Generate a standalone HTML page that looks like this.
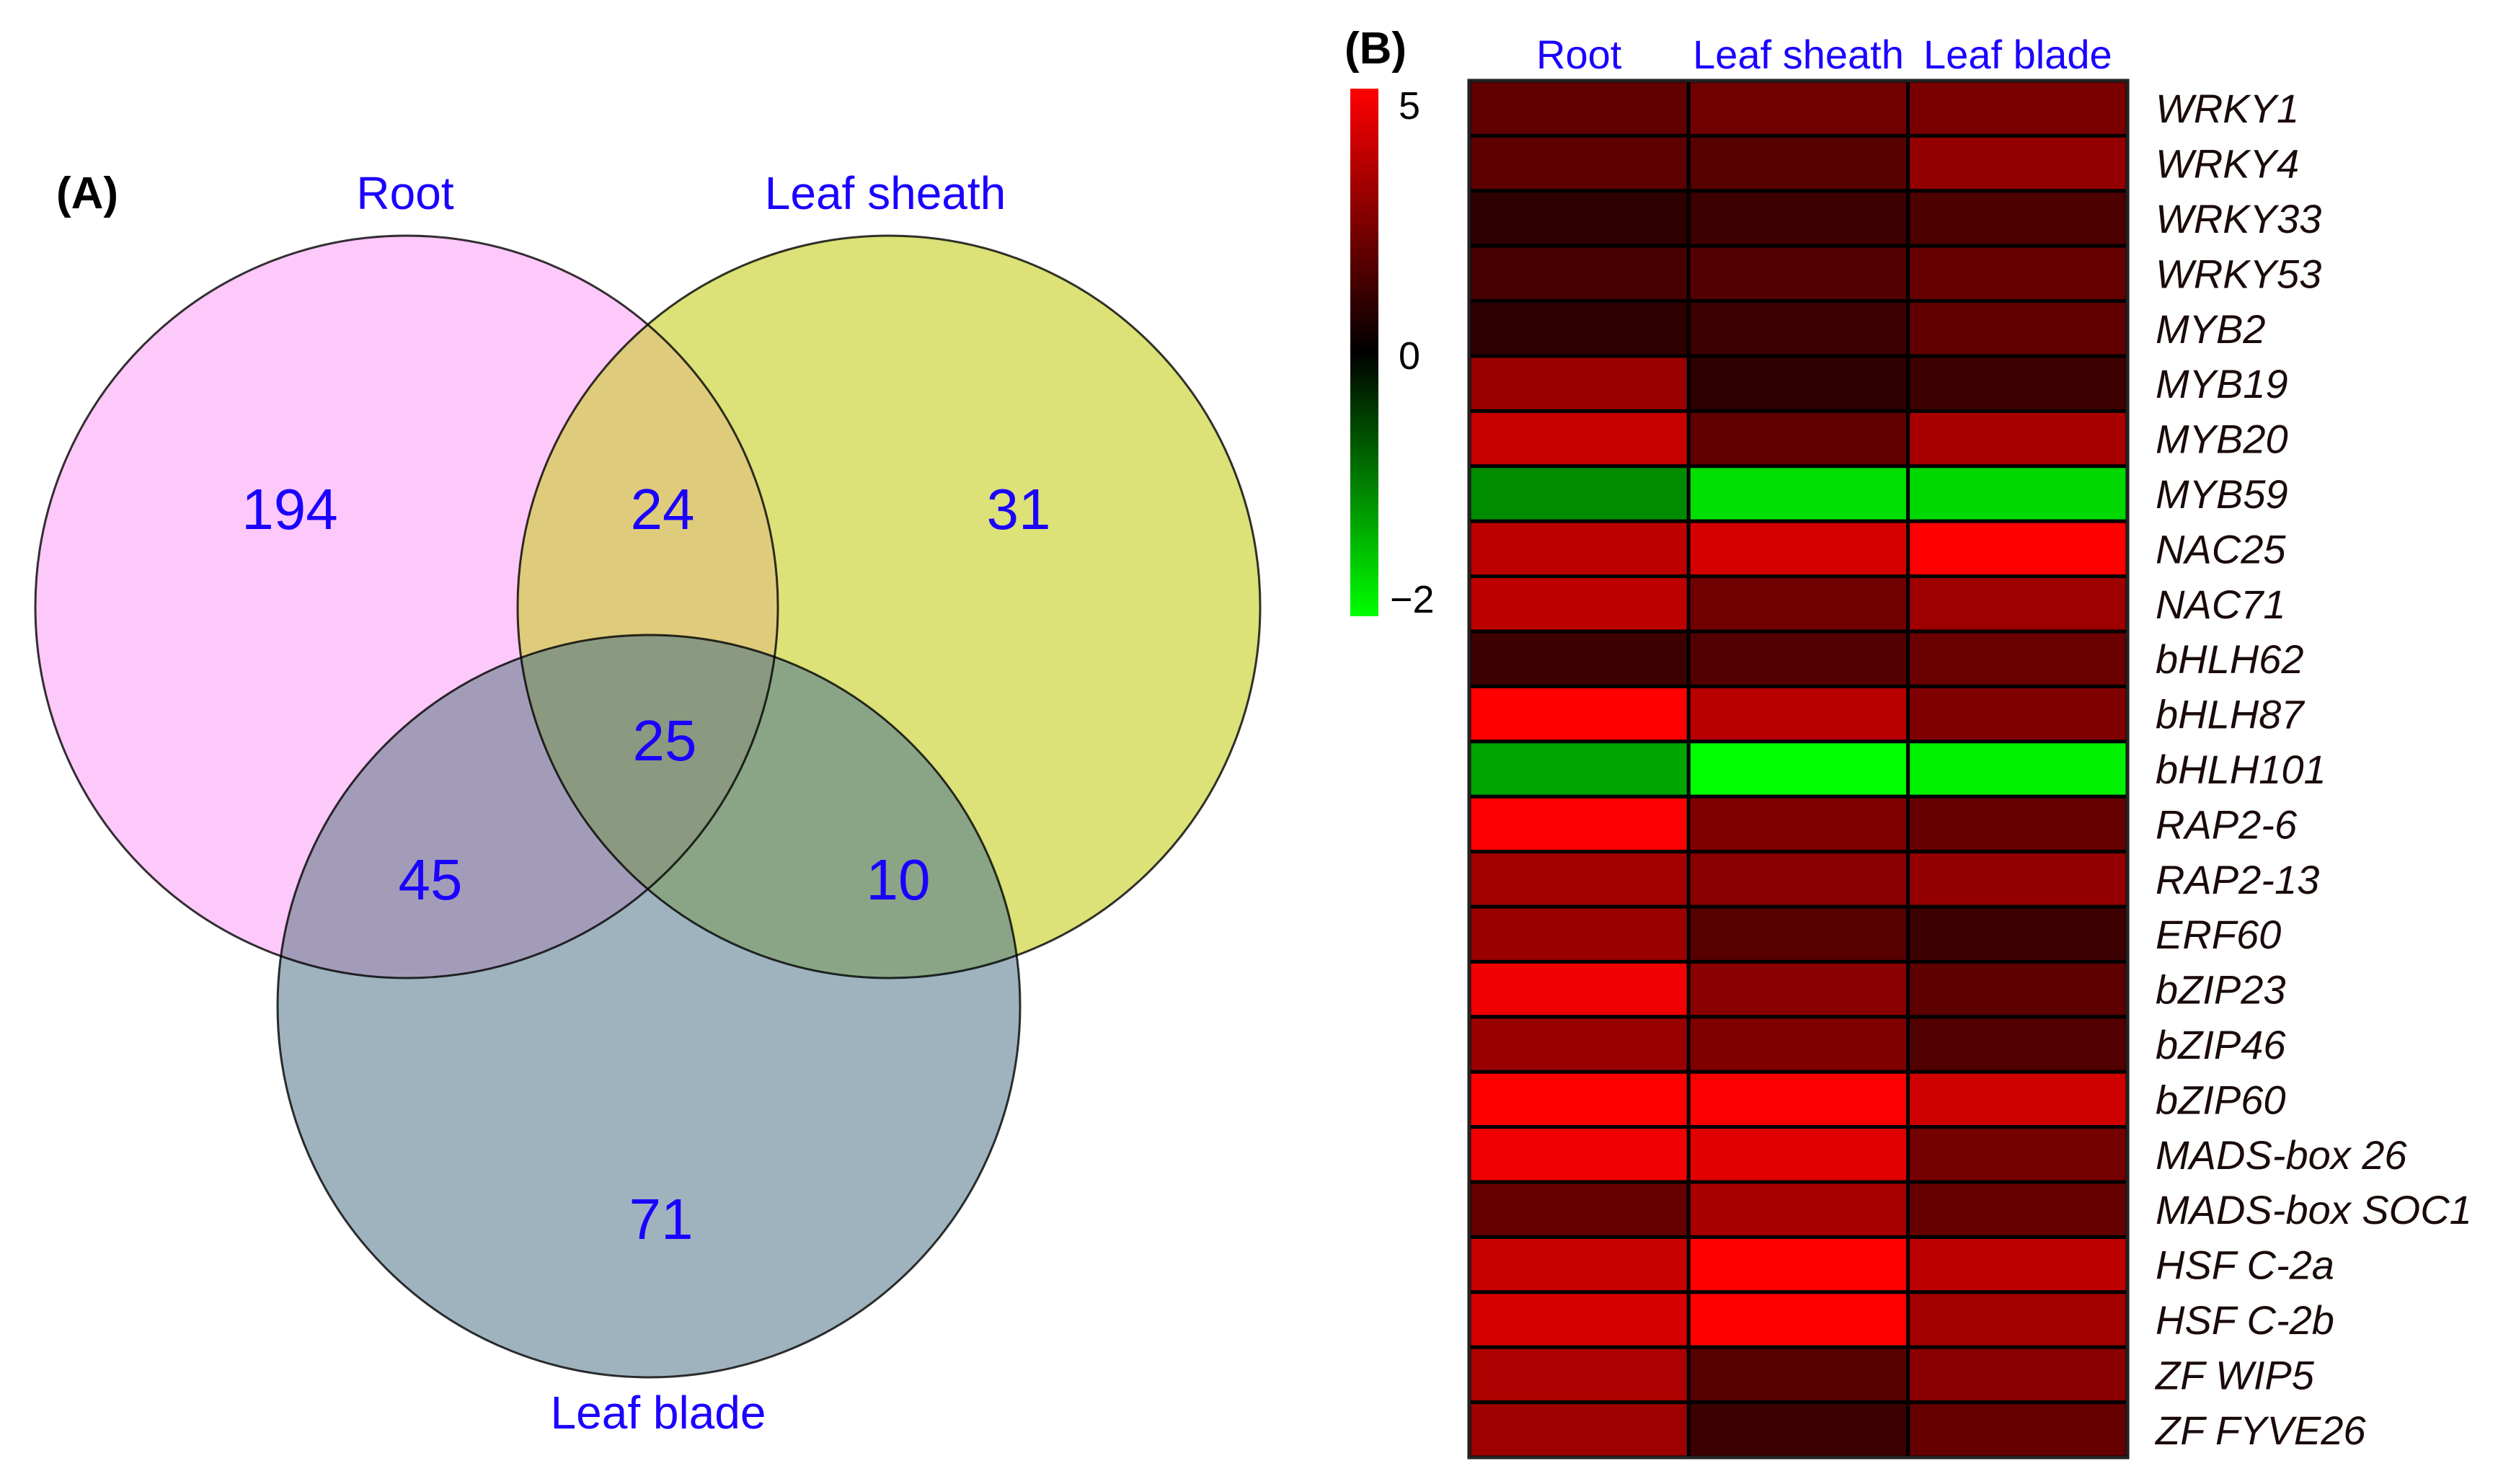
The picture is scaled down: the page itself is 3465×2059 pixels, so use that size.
<!DOCTYPE html>
<html><head><meta charset="utf-8"><style>
html,body{margin:0;padding:0;background:#fff;}
svg{display:block;}
text{font-family:"Liberation Sans",sans-serif;}
</style></head><body>
<svg id="fig" width="3465" height="2059" viewBox="0 0 3465 2059" xmlns="http://www.w3.org/2000/svg">
<defs>
<clipPath id="cR"><circle cx="564" cy="842" r="515"/></clipPath>
<clipPath id="cS"><circle cx="1233" cy="842" r="515"/></clipPath>
<clipPath id="cB"><circle cx="900" cy="1396" r="515"/></clipPath>
<linearGradient id="cbar" x1="0" y1="0" x2="0" y2="1">
<stop offset="0" stop-color="#ff0000"/><stop offset="0.5" stop-color="#000000"/><stop offset="1" stop-color="#00ff00"/>
</linearGradient>
</defs>
<g>
<text x="78" y="289" font-size="62" font-weight="bold">(A)</text>
<circle cx="564" cy="842" r="515" fill="#fdc8fa"/>
<circle cx="1233" cy="842" r="515" fill="#dce178"/>
<circle cx="900" cy="1396" r="515" fill="#9fb3be"/>
<g clip-path="url(#cR)"><circle cx="1233" cy="842" r="515" fill="#dfcb7c"/></g>
<g clip-path="url(#cR)"><circle cx="900" cy="1396" r="515" fill="#a39cb9"/></g>
<g clip-path="url(#cS)"><circle cx="900" cy="1396" r="515" fill="#8aa585"/></g>
<g clip-path="url(#cR)"><g clip-path="url(#cS)"><circle cx="900" cy="1396" r="515" fill="#8a9980"/></g></g>
<circle cx="564" cy="842" r="515" fill="none" stroke="#000" stroke-width="3" stroke-opacity="0.8"/>
<circle cx="1233" cy="842" r="515" fill="none" stroke="#000" stroke-width="3" stroke-opacity="0.8"/>
<circle cx="900" cy="1396" r="515" fill="none" stroke="#000" stroke-width="3" stroke-opacity="0.8"/>
<g fill="#1a00ff" text-anchor="middle">
<text x="562" y="290" font-size="64">Root</text>
<text x="1228" y="290" font-size="64">Leaf sheath</text>
<text x="913" y="1982" font-size="64">Leaf blade</text>
<text x="402" y="734" font-size="80">194</text>
<text x="919" y="734" font-size="80">24</text>
<text x="1413" y="734" font-size="80">31</text>
<text x="922" y="1055" font-size="80">25</text>
<text x="597" y="1248" font-size="80">45</text>
<text x="1246" y="1248" font-size="80">10</text>
<text x="917" y="1719" font-size="80">71</text>
</g>
</g>
<g id="heat">
<text x="1865" y="88" font-size="62" font-weight="bold">(B)</text>
<rect x="1873" y="123" width="39" height="732" fill="url(#cbar)"/>
<text x="1940" y="165" font-size="54">5</text>
<text x="1940" y="512" font-size="54">0</text>
<text x="1928" y="850" font-size="54">−2</text>
</g>
</svg>
<script>
const columns = ["Root", "Leaf sheath", "Leaf blade"];
const genes = ["WRKY1","WRKY4","WRKY33","WRKY53","MYB2","MYB19","MYB20","MYB59","NAC25","NAC71","bHLH62","bHLH87","bHLH101","RAP2-6","RAP2-13","ERF60","bZIP23","bZIP46","bZIP60","MADS-box 26","MADS-box SOC1","HSF C-2a","HSF C-2b","ZF WIP5","ZF FYVE26"];
const rootValues = [1.9,1.8,0.9,1.4,0.9,3.0,3.9,-1.1,3.7,3.7,1.2,5.0,-1.3,4.9,3.2,3.0,4.7,3.0,5.0,4.7,2.0,3.9,4.2,3.4,3.1];
const sheathValues = [2.2,1.7,1.2,1.6,1.2,0.9,1.9,-1.75,4.2,2.2,1.6,3.6,-2.0,2.5,2.7,1.7,2.7,2.5,4.9,4.4,3.3,5.0,5.0,1.7,1.2];
const bladeValues = [2.4,2.9,1.5,2.0,1.9,1.2,3.3,-1.7,5.0,3.1,2.1,2.5,-1.9,2.0,2.9,1.2,1.8,1.6,4.1,2.3,2.0,3.7,3.2,2.7,2.0];
const series = [rootValues, sheathValues, bladeValues];

const NS = "http://www.w3.org/2000/svg";
const g = document.getElementById("heat");
const X0 = 2038, X1 = 2951, Y0 = 112, Y1 = 2022;
const colW = (X1 - X0) / columns.length;
const rowH = (Y1 - Y0) / genes.length;
function xPos(c){ return X0 + c * colW; }
function yPos(r){ return Y0 + r * rowH; }
function color(v){
  if (v >= 0){ const t = Math.min(v/5,1); return "rgb(" + Math.round(255*t) + ",0,0)"; }
  const t = Math.min(-v/2,1); return "rgb(0," + Math.round(255*t) + ",0)";
}
for (let c = 0; c < columns.length; c++){
  const t = document.createElementNS(NS, "text");
  
  
  t.setAttribute("x", xPos(c) + colW/2);
  t.setAttribute("y", 95);
  t.setAttribute("font-size", "56");
  t.setAttribute("fill", "#1a00ff");
  t.setAttribute("text-anchor", "middle");
  t.textContent = columns[c];
  g.appendChild(t);
}
for (let r = 0; r < genes.length; r++){
  for (let c = 0; c < columns.length; c++){
    const rc = document.createElementNS(NS, "rect");
    
    
    rc.setAttribute("x", xPos(c));
    rc.setAttribute("y", yPos(r));
    rc.setAttribute("width", colW);
    rc.setAttribute("height", rowH);
    rc.setAttribute("fill", color(series[c][r]));
    rc.setAttribute("stroke", "#000");
    rc.setAttribute("stroke-width", "5");
    g.appendChild(rc);
  }
  const t = document.createElementNS(NS, "text");
  
  
  t.setAttribute("x", 2990);
  t.setAttribute("y", yPos(r) + rowH/2 + 20);
  t.setAttribute("font-size", "56");
  t.setAttribute("font-style", "italic");
  t.setAttribute("fill", "#1a0a0a");
  t.textContent = genes[r];
  g.appendChild(t);
}
const frame = document.createElementNS(NS, "rect");


frame.setAttribute("x", X0); frame.setAttribute("y", Y0);
frame.setAttribute("width", X1 - X0); frame.setAttribute("height", Y1 - Y0);
frame.setAttribute("fill", "none"); frame.setAttribute("stroke", "#222"); frame.setAttribute("stroke-width", "4");
g.appendChild(frame);
</script>
</body></html>
